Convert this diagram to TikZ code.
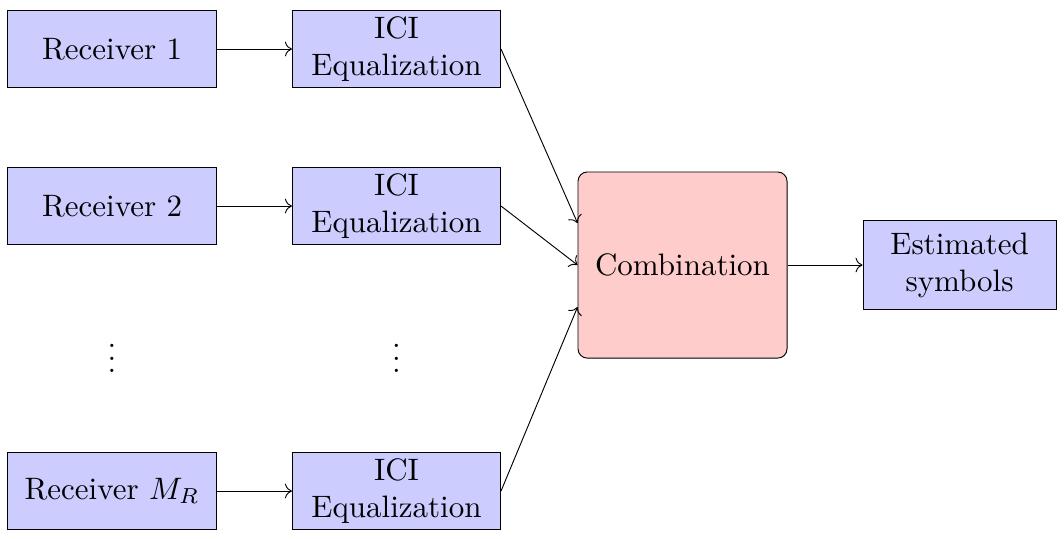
\documentclass[tikz,border=0pt]{standalone}
\usepackage{amsmath}
\usetikzlibrary{positioning, arrows.meta}
\tikzset{
    rxbox/.style={rectangle, draw, fill=blue!20, minimum width=2.36cm, minimum height=0.88cm, align=center, inner sep=2pt},
    combbox/.style={rectangle, draw, rounded corners=3pt, fill=red!20, minimum width=2.37cm, minimum height=2.11cm, align=center},
    outbox/.style={rectangle, draw, fill=blue!20, minimum width=2.19cm, minimum height=1.0cm, align=center, inner sep=2pt},
    arrow/.style={->},
}
\begin{document}
\begin{tikzpicture}[line width=0.3pt]
    \useasboundingbox (0,0) rectangle (12.063,-6.100);
    % Receivers
    \node[rxbox] (rx1) at (1.27,-0.556) {Receiver 1};
    \node[rxbox] (rx2) at (1.27,-2.336) {Receiver 2};
    \node[rxbox] (rx3) at (1.27,-5.567) {Receiver $M_R$};

    % Equalizers
    \node[rxbox] (eq1) at (4.495,-0.556) {ICI\\Equalization};
    \node[rxbox] (eq2) at (4.495,-2.336) {ICI\\Equalization};
    \node[rxbox] (eq3) at (4.495,-5.567) {ICI\\Equalization};

    % Dots
    \node (dots1) at (1.27,-3.96) {$\vdots$};
    \node (dots2) at (4.495,-3.96) {$\vdots$};

    % Combiner and output
    \node[combbox] (comb) at (7.738,-3.005) {Combination};
    \node[outbox] (est) at (10.879,-3.005) {Estimated\\symbols};

    % Connections
    \foreach \i in {1,2,3} \draw[arrow] (rx\i) -- (eq\i);
    \draw[arrow] (eq1.east) -- ([yshift=0.476cm]comb.west);
    \draw[arrow] (eq2.east) -- (comb.west);
    \draw[arrow] (eq3.east) -- ([yshift=-0.476cm]comb.west);
    \draw[arrow] (comb) -- (est);
\end{tikzpicture}
\end{document}
